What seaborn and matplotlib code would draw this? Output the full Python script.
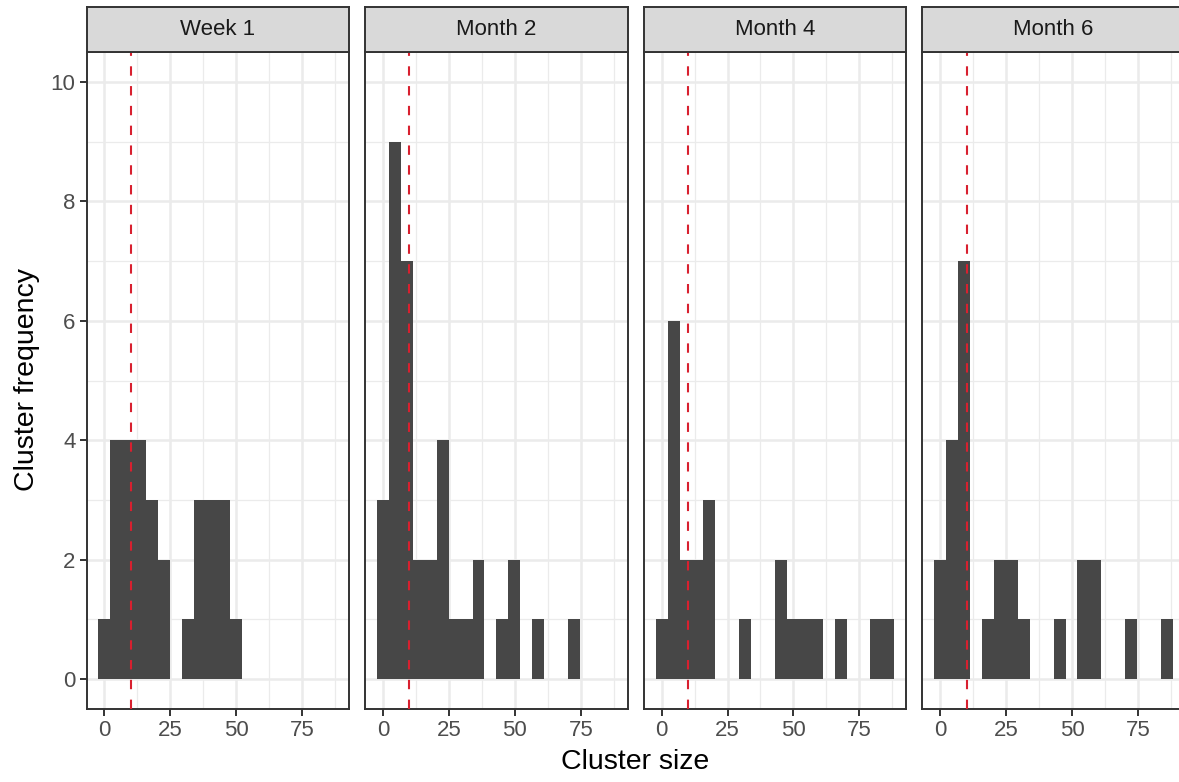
import numpy as np
import pandas as pd
import matplotlib
matplotlib.use('Agg')
import matplotlib.pyplot as plt
from matplotlib.ticker import FixedLocator
import seaborn as sns

# cluster counts per bin (20 bins, shared across panels)
periods = ['Week 1', 'Month 2', 'Month 4', 'Month 6']
week1_counts = [1, 4, 4, 4, 3, 2, 0, 1, 3, 3, 3, 1, 0, 0, 0, 0, 0, 0, 0, 0]
month2_counts = [3, 9, 7, 2, 2, 4, 1, 1, 2, 0, 1, 2, 0, 1, 0, 0, 1, 0, 0, 0]
month4_counts = [1, 6, 2, 2, 3, 0, 0, 1, 0, 0, 2, 1, 1, 1, 0, 1, 0, 0, 1, 1]
month6_counts = [2, 4, 7, 0, 1, 2, 2, 1, 0, 0, 1, 0, 2, 2, 0, 0, 1, 0, 0, 1]
threshold = 10
bin_start = -2.263
bin_width = 4.526
x_ticks = [0, 25, 50, 75]
x_minor = [12.5, 37.5, 62.5, 87.5]
y_ticks = [0, 2, 4, 6, 8, 10]
y_minor = [1, 3, 5, 7, 9]

counts = [week1_counts, month2_counts, month4_counts, month6_counts]
edges = [bin_start + bin_width * k for k in range(len(week1_counts) + 1)]
centers = [(a + b) / 2 for a, b in zip(edges[:-1], edges[1:])]

rows = []
for period, cnt in zip(periods, counts):
    for c, n in zip(centers, cnt):
        rows.append({'period': period, 'size': c, 'count': n})
df = pd.DataFrame(rows)

sns.set_theme(style='white')
plt.rcParams['font.family'] = ['Liberation Sans', 'DejaVu Sans']

W, H = 1179, 782
fig = plt.figure(figsize=(W / 100, H / 100), dpi=100)

bar_color = '#474747'
line_color = '#d8202f'
grid_color = '#EBEBEB'
border_color = '#333333'

panel_left = 86.5
panel_step = 278.6
panel_w = 262.6
panel_top = 52
panel_bottom = 709
strip_top = 7

for i, period in enumerate(periods):
    x0 = panel_left + i * panel_step
    ax = fig.add_axes([x0 / W, 1 - panel_bottom / H, panel_w / W,
                       (panel_bottom - panel_top) / H])
    sub = df[df['period'] == period]
    sns.histplot(data=sub, x='size', weights='count', bins=edges,
                 element='step', fill=True, color=bar_color, alpha=1,
                 linewidth=0, ax=ax, zorder=2)
    ax.axvline(threshold, color=line_color, lw=1.5, ls=(0, (4.5, 5)), zorder=3)

    ax.set_xlim(-6.79, 92.79)
    ax.set_ylim(-0.5, 10.5)
    ax.set_xticks(x_ticks)
    ax.set_yticks(y_ticks)
    ax.xaxis.set_minor_locator(FixedLocator(x_minor))
    ax.yaxis.set_minor_locator(FixedLocator(y_minor))
    ax.set_axisbelow(True)
    ax.grid(which='major', color=grid_color, lw=1.8)
    ax.grid(which='minor', color=grid_color, lw=0.9)
    ax.tick_params(which='minor', length=0)
    ax.tick_params(which='major', length=5, width=1.4, color=border_color,
                   labelsize=16, labelcolor='#4D4D4D', pad=3)
    if i > 0:
        ax.tick_params(axis='y', left=False, labelleft=False)
    else:
        ax.tick_params(axis='y', left=True)
    ax.tick_params(axis='x', bottom=True)
    for sp in ax.spines.values():
        sp.set_visible(True)
        sp.set_color(border_color)
        sp.set_linewidth(1.4)
    ax.set_xlabel('')
    ax.set_ylabel('')

    # facet strip
    sax = fig.add_axes([x0 / W, 1 - panel_top / H, panel_w / W,
                        (panel_top - strip_top) / H])
    sax.set_facecolor('#D9D9D9')
    sax.set_xticks([])
    sax.set_yticks([])
    for sp in sax.spines.values():
        sp.set_visible(True)
        sp.set_color(border_color)
        sp.set_linewidth(1.4)
    sax.text(0.5, 0.5, period, ha='center', va='center', fontsize=16,
             color='#1A1A1A', transform=sax.transAxes)

fig.text(27 / W, 1 - 380 / H, 'Cluster frequency', rotation=90,
         ha='center', va='center', fontsize=20.5, color='black')
fig.text(635.5 / W, 1 - 762 / H, 'Cluster size', ha='center', va='center',
         fontsize=20.5, color='black')

fig.savefig('out.png', dpi=100)
